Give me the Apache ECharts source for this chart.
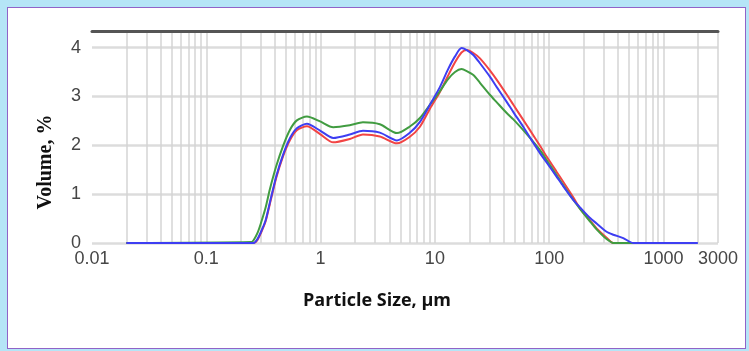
<!DOCTYPE html>
<html>
<head>
<meta charset="utf-8">
<script src="https://cdn.jsdelivr.net/npm/echarts@6/dist/echarts.min.js"></script>
<style>
  html, body { margin: 0; padding: 0; background: #b5e5f7; }
  #frame { position: absolute; left: 7px; top: 7px; width: 737px; height: 340px; border: 1px solid #9063c8; background: #fff; }
  #chart { position: absolute; left: 0; top: 0; width: 749px; height: 351px; }
</style>
</head>
<body>
<div id="frame"></div>
<div id="chart"></div>
<script>
  // particle size, µm (shared by the three runs)
  var sizes = [0.02, 0.25, 0.26, 0.28, 0.30, 0.33, 0.36, 0.41, 0.47, 0.54, 0.62, 0.76, 0.99, 1.29, 1.8, 2.35, 3.3, 4.66, 6.0, 7.4,
    9.1, 11.0, 13.0, 15.0, 17.1, 19.0, 21.7, 24.8, 30.4, 34.8, 42.5, 48.6, 59.3, 67.9, 83.1, 95, 116, 133, 163, 186,
    228, 260, 318, 364, 445, 545, 2000];
  // volume, %
  var redRun = [0, 0, 0, 0.06, 0.20, 0.44, 0.80, 1.34, 1.78, 2.11, 2.31, 2.39, 2.23, 2.06, 2.13, 2.22, 2.18, 2.04, 2.17, 2.38,
    2.76, 3.08, 3.42, 3.70, 3.90, 3.95, 3.89, 3.78, 3.53, 3.34, 3.04, 2.83, 2.52, 2.31, 1.99, 1.77, 1.46, 1.25, 0.93, 0.71,
    0.46, 0.30, 0.11, 0, 0, 0, null];
  var greenRun = [0, 0.02, 0.06, 0.20, 0.40, 0.72, 1.10, 1.58, 1.99, 2.32, 2.51, 2.59, 2.49, 2.37, 2.41, 2.47, 2.43, 2.25, 2.38, 2.56,
    2.84, 3.10, 3.35, 3.50, 3.56, 3.52, 3.44, 3.28, 3.03, 2.88, 2.66, 2.53, 2.31, 2.15, 1.90, 1.70, 1.39, 1.18, 0.88, 0.70,
    0.44, 0.28, 0.08, 0, 0, 0, null];
  var blueRun = [0, 0, 0, 0.08, 0.22, 0.46, 0.83, 1.37, 1.81, 2.15, 2.35, 2.44, 2.30, 2.15, 2.22, 2.30, 2.26, 2.10, 2.25, 2.48,
    2.84, 3.18, 3.55, 3.82, 3.99, 3.95, 3.85, 3.68, 3.40, 3.19, 2.89, 2.68, 2.38, 2.16, 1.84, 1.65, 1.36, 1.16, 0.88, 0.73,
    0.51, 0.40, 0.23, 0.17, 0.10, 0, 0];

  var xLabels = [0.01, 0.1, 1, 10, 100, 1000, 3000];
  var yMax = 4.34;

  // vertical grid: 2..9 in every decade, then 1000, 2000, 3000
  var xGrid = [];
  [0.01, 0.1, 1, 10, 100].forEach(function (d) {
    for (var k = (d === 0.01 ? 2 : 1); k <= 9; k++) xGrid.push(k * d);
  });
  xGrid.push(1000, 2000, 3000);

  var lg = function (v) { return Math.log10(v); };
  function toPairs(vals) {
    return sizes.map(function (s, i) { return [lg(s), vals[i]]; });
  }

  var labelFont = { fontFamily: '"Liberation Sans Narrow", "Arial Narrow", "Liberation Sans", sans-serif', fontSize: 18, color: '#464646' };

  var chart = echarts.init(document.getElementById('chart'));
  chart.setOption({
    animation: false,
    grid: { left: 92, right: 31, top: 31, bottom: 108, containLabel: false },
    xAxis: [{
      type: 'value',
      min: lg(0.01), max: lg(3000),
      axisLine: { show: false },
      axisTick: { show: false, customValues: xGrid.map(lg) },
      axisLabel: Object.assign({
        customValues: xLabels.map(lg),
        margin: 7,
        formatter: function (v) { return String(Number(Math.pow(10, v).toPrecision(2))); }
      }, labelFont),
      splitLine: { show: true, lineStyle: { color: '#d4d4d4', width: 1.5 } }
    }, {
      type: 'value', position: 'top',
      min: lg(0.01), max: lg(3000),
      axisLine: { show: true, lineStyle: { color: '#555', width: 3 } },
      axisTick: { show: false }, axisLabel: { show: false }, splitLine: { show: false }
    }],
    yAxis: {
      type: 'value', min: 0, max: yMax, interval: 1,
      axisLine: { show: false }, axisTick: { show: false },
      axisLabel: Object.assign({ margin: 11, showMaxLabel: false }, labelFont),
      splitLine: { lineStyle: { color: '#dcdcdc', width: 2.5 } }
    },
    graphic: [{
      type: 'text', x: 46, y: 162, rotation: Math.PI / 2,
      style: { text: 'Volume, %', font: 'bold 20px "Liberation Serif", serif', fill: '#111', align: 'center', verticalAlign: 'middle' }
    }, {
      type: 'text', x: 377, y: 301,
      style: { text: 'Particle Size, µm', font: 'bold 18px "Open Sans", sans-serif', fill: '#111', align: 'center', verticalAlign: 'middle' }
    }],
    series: [
      { name: 'red', type: 'line', data: toPairs(redRun), color: '#f24444' },
      { name: 'green', type: 'line', data: toPairs(greenRun), color: '#419c41' },
      { name: 'blue', type: 'line', data: toPairs(blueRun), color: '#3e3ef2' }
    ].map(function (s) {
      s.showSymbol = false;
      s.symbol = 'none';
      s.smooth = 0.25;
      s.lineStyle = { width: 2 };
      return s;
    })
  });
</script>
</body>
</html>
